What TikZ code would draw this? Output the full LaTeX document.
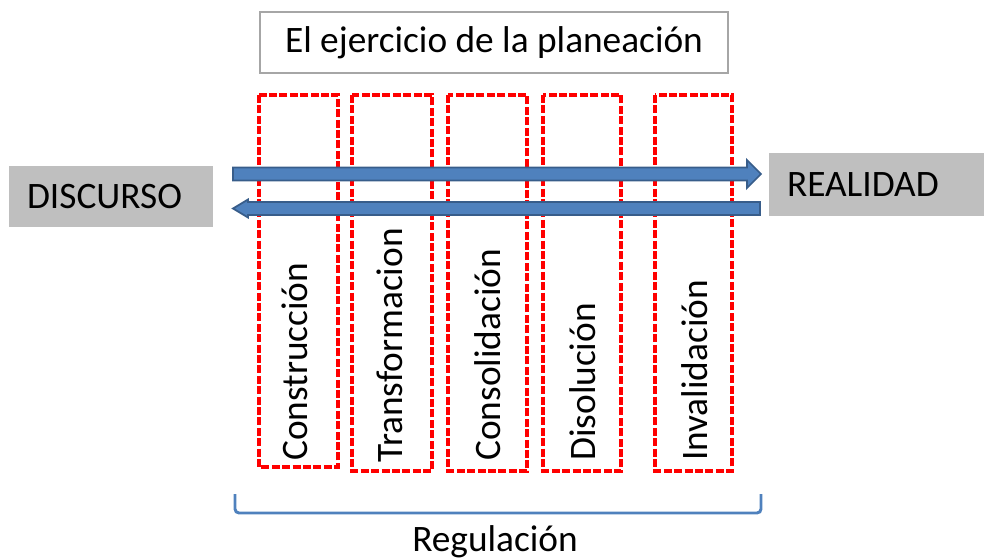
\documentclass[tikz,border=0pt]{standalone}
\usepackage{fontspec}
\setmainfont{Carlito}
\definecolor{arrowfill}{HTML}{4F81BD}
\definecolor{arrowline}{HTML}{385D8A}
\definecolor{boxgray}{HTML}{BFBFBF}
\definecolor{titleline}{HTML}{A6A6A6}
\begin{document}
\begin{tikzpicture}[x=0.75pt,y=-0.75pt,
  txt/.style={font=\fontsize{28}{32}\selectfont},
  titlebox/.style={draw=titleline,line width=2.2pt,fill=white,minimum width=351pt,minimum height=45.75pt,inner sep=0pt,txt},
  graybox/.style={fill=boxgray,inner ysep=0pt,inner xsep=13.5pt,align=left,txt},
  redbox/.style={draw=red,line width=3pt,dash pattern=on 6pt off 1.8pt},
  vlabel/.style={rotate=90,anchor=base west,inner sep=0pt,txt},
  bluearrow/.style={fill=arrowfill,draw=arrowline,line width=1.3pt,line join=miter},
  bracket/.style={draw=arrowfill,line width=2.2pt,rounded corners=3pt}]
\useasboundingbox (0,0) rectangle (984,557);
% title
\node[titlebox] (title) at (494,42.5) {El ejercicio de la planeación};
% side boxes
\node[graybox,text width=126pt,minimum height=45.75pt] (disc) at (111,196.5) {DISCURSO};
\node[graybox,text width=134.25pt,minimum height=47.25pt] (real) at (876.5,184.5) {REALIDAD};
% red dashed columns
\draw[redbox] (259,95) rectangle (338,467);
\draw[redbox] (352,95) rectangle (432,471);
\draw[redbox] (448,95) rectangle (527,471);
\draw[redbox] (543,95) rectangle (621,471);
\draw[redbox] (655,95) rectangle (732,471);
% arrows
\coordinate (ta) at (233,174);
\coordinate (ba) at (760,208.5);
\draw[bluearrow] (ta) ++(0,-6.5) -- ++(514,0) -- ++(0,-7.5) -- ++(14,14) -- ++(-14,14) -- ++(0,-7.5) -- ++(-514,0) -- cycle;
\draw[bluearrow] (ba) ++(0,-6.5) -- ++(-512,0) -- ++(0,-2.5) -- ++(-15,9) -- ++(15,9) -- ++(0,-2.5) -- ++(512,0) -- cycle;
% vertical labels
\node[vlabel] (l1) at (307,461) {Construcción};
\node[vlabel] (l2) at (402,463) {Transformacion};
\node[vlabel] (l3) at (500,461) {Consolidación};
\node[vlabel] (l4) at (595,461) {Disolución};
\node[vlabel] (l5) at (707,461) {Invalidación};
% bracket
\draw[bracket] (235,494) -- (235,513) -- (761,513) -- (761,494);
\node[txt,anchor=base] (reg) at (495,551) {Regulación};
\end{tikzpicture}
\end{document}
